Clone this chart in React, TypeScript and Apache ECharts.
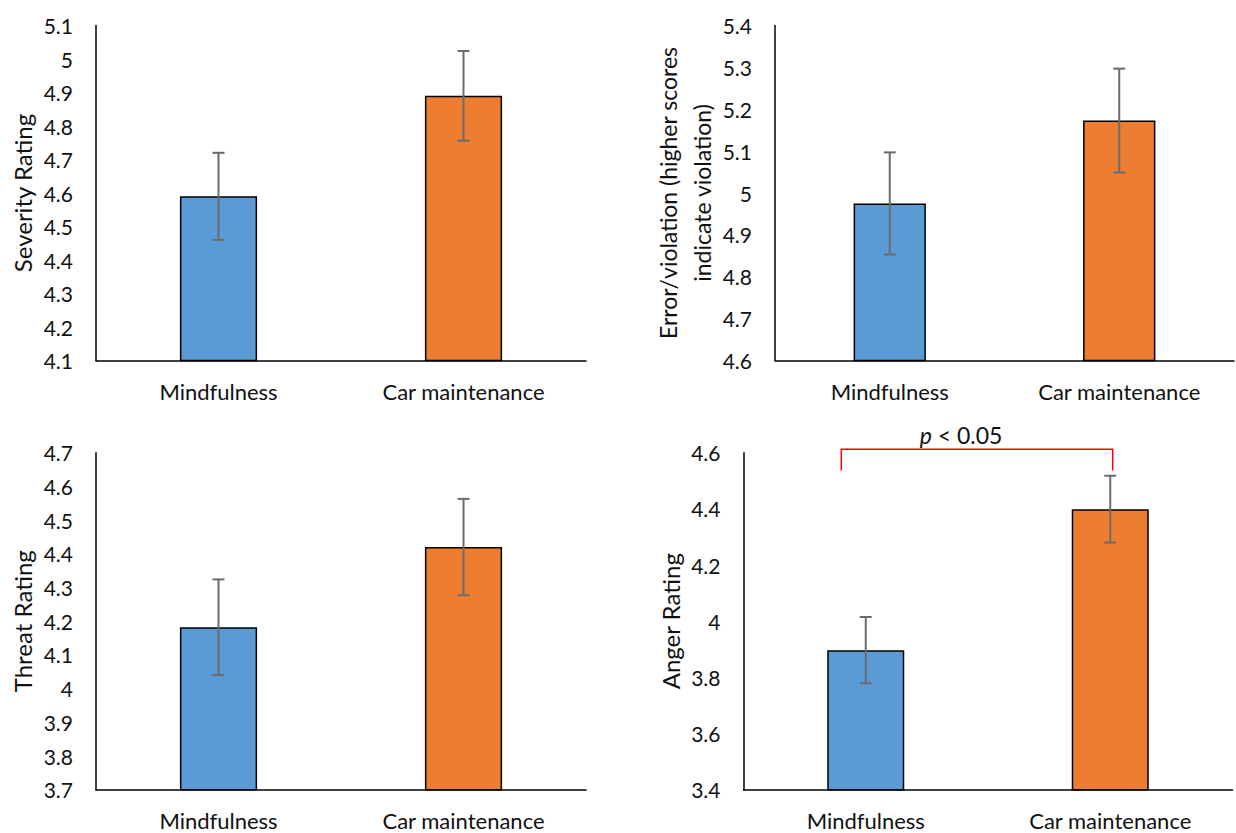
import React, { useEffect, useRef } from "react";
import * as echarts from "echarts";

const categories = ["Mindfulness", "Car maintenance"];

const severityMeans = [4.59, 4.89];
const severityErr = [0.13, 0.134];
const errorMeans = [4.975, 5.173];
const errorErr = [0.122, 0.124];
const threatMeans = [4.182, 4.42];
const threatErr = [0.142, 0.143];
const angerMeans = [3.897, 4.399];
const angerErr = [0.118, 0.119];

// y-axis ranges [min, max, interval]
const severityAxis = [4.1, 5.1, 0.1];
const errorAxis = [4.6, 5.4, 0.1];
const threatAxis = [3.7, 4.7, 0.1];
const angerAxis = [3.4, 4.6, 0.2];

// significance bracket: [top value, left leg bottom, right leg bottom]
const bracketValues = [4.612, 4.537, 4.537];

const barColors = ["#5B9BD5", "#ED7D31"];
const FONT = "Lato, 'Open Sans', sans-serif";
const TXT = "#111111";

export default function App() {
  const ref = useRef<HTMLDivElement>(null);

  useEffect(() => {
    document.body.style.margin = "0";
    const chart = echarts.init(ref.current!, undefined, { renderer: "svg" });

    const panels = [
      { means: severityMeans, err: severityErr, axis: severityAxis, name: "Severity Rating", grid: { left: 96, top: 25.5, width: 490, height: 335 }, nameGap: 57 },
      { means: errorMeans, err: errorErr, axis: errorAxis, name: "Error/violation (higher scores\nindicate violation)", grid: { left: 775, top: 25.5, width: 459, height: 335 }, nameGap: 53 },
      { means: threatMeans, err: threatErr, axis: threatAxis, name: "Threat Rating", grid: { left: 96, top: 452.7, width: 490, height: 337 }, nameGap: 57 },
      { means: angerMeans, err: angerErr, axis: angerAxis, name: "Anger Rating", grid: { left: 743.5, top: 452.7, width: 489, height: 337 }, nameGap: 55 },
    ];

    const errorRender = (params: any, api: any) => {
      const x = api.value(0);
      const y = api.value(1);
      const e = api.value(2);
      const hi = api.coord([x, y + e]);
      const lo = api.coord([x, y - e]);
      const cap = 6;
      const st = { stroke: "#6b6b6b", lineWidth: 2 };
      return {
        type: "group",
        children: [
          { type: "line", shape: { x1: hi[0], y1: hi[1], x2: lo[0], y2: lo[1] }, style: st },
          { type: "line", shape: { x1: hi[0] - cap, y1: hi[1], x2: hi[0] + cap, y2: hi[1] }, style: st },
          { type: "line", shape: { x1: lo[0] - cap, y1: lo[1], x2: lo[0] + cap, y2: lo[1] }, style: st },
        ],
      };
    };

    const bracketRender = (params: any, api: any) => {
      const top = api.value(0);
      const lb = api.value(1);
      const rb = api.value(2);
      const band = api.size([1, 0])[0];
      const lt = api.coord([0, top]);
      const rt = api.coord([1, top]);
      const lbp = api.coord([0, lb]);
      const rbp = api.coord([1, rb]);
      const lx = lt[0] - band * 0.1;
      const rx = rt[0] + band * 0.01;
      return {
        type: "polyline",
        shape: { points: [[lx, lbp[1]], [lx, lt[1]], [rx, rt[1]], [rx, rbp[1]]] },
        style: { stroke: "#FF0000", lineWidth: 1.5, fill: null },
      };
    };

    const grid: any[] = [];
    const xAxis: any[] = [];
    const yAxis: any[] = [];
    const series: any[] = [];

    panels.forEach((p, i) => {
      grid.push({ ...p.grid });
      xAxis.push({
        type: "category",
        gridIndex: i,
        data: categories,
        axisLine: { lineStyle: { color: "#000", width: 1.5 } },
        axisTick: { show: false },
        axisLabel: { color: TXT, fontSize: 22, fontFamily: FONT, margin: 20 },
      });
      yAxis.push({
        type: "value",
        gridIndex: i,
        min: p.axis[0],
        max: p.axis[1],
        interval: p.axis[2],
        splitLine: { show: false },
        axisLine: { show: true, lineStyle: { color: "#000", width: 1.5 } },
        axisTick: { show: false },
        axisLabel: { color: TXT, fontSize: 21, fontFamily: FONT, margin: 23 },
        name: p.name,
        nameLocation: "middle",
        nameRotate: 90,
        nameGap: p.nameGap,
        nameTextStyle: { color: TXT, fontSize: i === 1 ? 23 : 24, fontFamily: FONT, lineHeight: 34 },
      });
      series.push({
        type: "bar",
        xAxisIndex: i,
        yAxisIndex: i,
        barWidth: "31.5%",
        data: p.means.map((v, k) => ({
          value: v,
          itemStyle: { color: barColors[k], borderColor: "#000", borderWidth: 1.5 },
        })),
        z: 2,
      });
      series.push({
        type: "custom",
        xAxisIndex: i,
        yAxisIndex: i,
        renderItem: errorRender,
        clip: false,
        z: 5,
        data: p.means.map((v, k) => [k, v, p.err[k]]),
      });
    });

    series.push({
      type: "custom",
      xAxisIndex: 3,
      yAxisIndex: 3,
      renderItem: bracketRender,
      clip: false,
      z: 6,
      encode: { x: [], y: [0, 1, 2] },
      data: [bracketValues],
    });

    chart.setOption({
      animation: false,
      backgroundColor: "#ffffff",
      grid,
      xAxis,
      yAxis,
      series,
      graphic: [
        {
          type: "text",
          x: 961,
          y: 435,
          style: {
            text: "{i|p} < 0.05",
            rich: {
              i: { fontStyle: "italic", fontSize: 23, fontFamily: FONT, fill: TXT },
            },
            fontSize: 23,
            fontFamily: FONT,
            fill: TXT,
            align: "center",
            verticalAlign: "middle",
          },
        },
      ],
    });

    return () => chart.dispose();
  }, []);

  return <div ref={ref} style={{ width: 1236, height: 833 }} />;
}
